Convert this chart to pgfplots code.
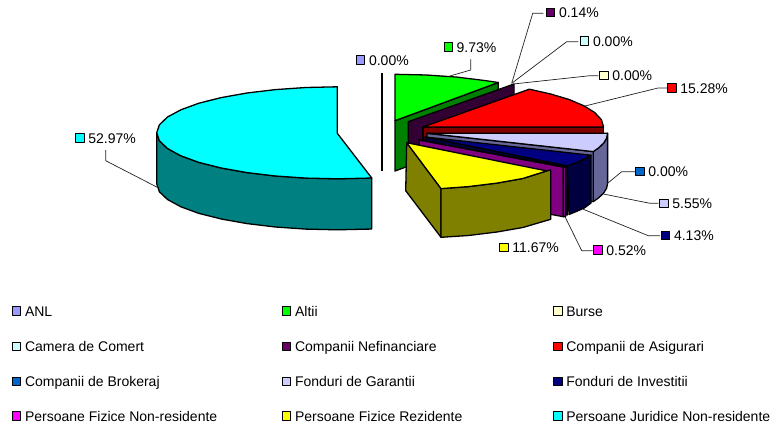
\documentclass[border=0pt]{standalone}
\usepackage{pgfplots}
\pgfplotsset{compat=1.18}
\usepackage{fontspec}
\setmainfont{Liberation Sans}
\definecolor{cANL}{HTML}{9999FF}
\definecolor{cBurse}{HTML}{FFFFCC}
\definecolor{cCamera}{HTML}{CCFFFF}
\definecolor{cNef}{HTML}{660066}
\definecolor{cNefD}{HTML}{330033}
\definecolor{cBrok}{HTML}{0066CC}
\definecolor{cGar}{HTML}{CCCCFF}
\definecolor{cGarD}{HTML}{666699}
\definecolor{cInv}{HTML}{000080}
\definecolor{cInvD}{HTML}{000040}
\definecolor{cGreen}{HTML}{00FF00}
\definecolor{cGreenD}{HTML}{008000}
\definecolor{cRed}{HTML}{FF0000}
\definecolor{cRedD}{HTML}{800000}
\definecolor{cMag}{HTML}{FF00FF}
\definecolor{cMagD}{HTML}{800080}
\definecolor{cYellow}{HTML}{FFFF00}
\definecolor{cOlive}{HTML}{808000}
\definecolor{cCyan}{HTML}{00FFFF}
\definecolor{cTeal}{HTML}{008080}
\definecolor{cLead}{HTML}{222222}
\newcommand{\keyed}[4]{%
  \addplot[only marks, mark=square*, mark size=4.1pt,
    mark options={fill=#3, draw=black, line width=1.1bp},
    nodes near coords, point meta=explicit symbolic,
    nodes near coords style={anchor=base west, inner sep=0pt, xshift=7.8bp, yshift=-5bp,
      font=\fontsize{14bp}{16bp}\selectfont, text=black}]
    coordinates {(#1,#2)[#4]};}
\newcommand{\lead}[1]{\addplot[draw=cLead, line width=0.7bp] coordinates {#1};}
\begin{document}
\begin{tikzpicture}
\useasboundingbox (0,0) rectangle (772bp,428bp);
\begin{axis}[at={(0,0)}, anchor=south west, scale only axis, width=772bp, height=428bp, hide axis,
  xmin=0, xmax=772, ymin=0, ymax=428, y dir=reverse, clip=false,
  every axis plot/.append style={line join=round}]
\pgfplotsset{surf/.style={draw=black, line width=1.3bp}}
% Persoane Juridice Non-residente 52.97
\addplot[surf, fill=cTeal] coordinates {(156.7,132.8)(159.4,140.8)(167.5,148.5)(180.9,155.8)(198.9,162.4)(221.2,168)(247,172.6)(275.5,176)(305.9,178.1)(337.3,178.8)(368.7,178.1)(371.7,178)(371.7,229)(368.7,229.1)(337.3,229.8)(305.9,229.1)(275.5,227)(247,223.6)(221.2,219)(198.9,213.4)(180.9,206.8)(167.5,199.5)(159.4,191.8)(156.7,183.8)} --cycle;
\addplot[surf, fill=cCyan] coordinates {(337.3,86.8)(305.9,87.5)(275.5,89.6)(247,93)(221.2,97.6)(198.9,103.2)(180.9,109.8)(167.5,117)(159.4,124.8)(156.7,132.8)(159.4,140.8)(167.5,148.5)(180.9,155.8)(198.9,162.4)(221.2,168)(247,172.6)(275.5,176)(305.9,178.1)(337.3,178.8)(368.7,178.1)(371.7,178)(337.3,133.3)} --cycle;
% ANL 0.00
\addplot[draw=black, line width=1.8bp] coordinates {(382,73.3)(382,171)};
% Altii 9.73
\addplot[surf, fill=cGreenD] coordinates {(395,120.7)(498.3,82.5)(498.3,133)(395,171)} --cycle;
\addplot[surf, fill=cGreen] coordinates {(395,74.3)(426.4,75)(456.8,77.1)(485.3,80.6)(498.3,82.5)(395,120.7)} --cycle;
% Companii Nefinanciare 0.14
\addplot[surf, fill=cNefD] coordinates {(408.3,121.7)(514,84)(514,135)(408.3,172)} --cycle;
% Companii de Asigurari 15.28
\addplot[surf, fill=cRedD] coordinates {(423,127)(603.6,127)(603.6,178)(423,178)} --cycle;
\addplot[surf, fill=cRed] coordinates {(423,127)(529.3,89.2)(550.7,94)(569.1,99.5)(583.9,105.8)(594.8,112.6)(601.4,119.7)(603.6,127)} --cycle;
% Fonduri de Garantii 5.55
\addplot[surf, fill=cGarD] coordinates {(607.6,133.3)(606.6,138.2)(603.7,143)(598.8,147.7)(593.3,151.6)(593.3,201.6)(598.8,197.7)(603.7,193)(606.6,188.2)(607.6,183.3)} --cycle;
\addplot[surf, fill=cGarD] coordinates {(427,133.3)(593.3,151.6)(593.3,201.6)(427,183.3)} --cycle;
\addplot[surf, fill=cGar] coordinates {(427,133.3)(607.6,133.3)(606.6,138.2)(603.7,143)(598.8,147.7)(593.3,151.6)} --cycle;
% Fonduri de Investitii 4.13
\addplot[surf, fill=cInvD] coordinates {(425,137)(567.3,165.8)(567.3,215)(425,186)} --cycle;
\addplot[surf, fill=cInvD] coordinates {(591,155.2)(584.5,158.9)(576.5,162.4)(567.3,165.8)(569,214.5)(576.5,211.4)(584.5,207.9)(591,203)} --cycle;
\addplot[surf, fill=cInv] coordinates {(425,137)(591,155.2)(584.5,158.9)(576.5,162.4)(567.3,165.8)} --cycle;
% Persoane Fizice Non-residente 0.52
\addplot[surf, fill=cMagD] coordinates {(419.3,140)(563.3,167)(563.3,216.7)(419.3,190)} --cycle;
\addplot[surf, fill=cMagD] coordinates {(563.3,167)(565.7,166.7)(565.7,216.5)(563.3,216.7)} --cycle;
\addplot[surf, fill=cMag] coordinates {(419.3,140)(565.7,166.7)(563.3,167)} --cycle;
% Persoane Fizice Rezidente 11.67
\addplot[surf, fill=cOlive] coordinates {(406.7,142.7)(441,188.6)(441,237.3)(405.7,190.7)} --cycle;
\addplot[surf, fill=cOlive] coordinates {(441,188.6)(468.5,186.6)(497,183.1)(522.8,178.5)(546.7,170.9)(550.7,170)(550.7,219.3)(522.8,227.5)(497,232)(468.5,235.5)(441,237.3)} --cycle;
\addplot[surf, fill=cYellow] coordinates {(406.7,142.7)(546.7,170.9)(522.8,178.5)(497,183.1)(468.5,186.6)(441,188.6)} --cycle;
% leader lines
\lead{(450,76)(470.7,70)(470.7,59.3)}
\lead{(511.7,83.3)(532.7,13.3)(543.3,13.3)}
\lead{(511.7,83.3)(566.7,41.7)(578.3,41.7)}
\lead{(513.3,84)(590,75.7)(598.3,75.7)}
\lead{(585,106)(658,88)(667,88)}
\lead{(606.7,184)(621.7,171.7)(635,171.7)}
\lead{(603.3,194)(650,203.3)(658.3,203.3)}
\lead{(583.3,209.3)(648.3,235.7)(660,235.7)}
\lead{(565,216.7)(581.7,250.7)(592.7,250.7)}
\lead{(157.3,187.3)(105.7,160.7)(105.7,150)}
% value labels
\keyed{360.7}{60}{cANL}{0.00\%}
\keyed{448.3}{47}{cGreen}{9.73\%}
\keyed{550.7}{12.7}{cNef}{0.14\%}
\keyed{584.7}{41}{cCamera}{0.00\%}
\keyed{604}{75.7}{cBurse}{0.00\%}
\keyed{672}{88}{cRed}{15.28\%}
\keyed{640}{171.7}{cBrok}{0.00\%}
\keyed{664}{203.3}{cGar}{5.55\%}
\keyed{665.7}{235.7}{cInv}{4.13\%}
\keyed{598}{250}{cMag}{0.52\%}
\keyed{504}{247.3}{cYellow}{11.67\%}
\keyed{80}{138}{cCyan}{52.97\%}
% legend
\keyed{16.7}{311}{cANL}{ANL}
\keyed{286.7}{311}{cGreen}{Altii}
\keyed{558}{311}{cBurse}{Burse}
\keyed{16.7}{346.5}{cCamera}{Camera de Comert}
\keyed{286.7}{346.5}{cNef}{Companii Nefinanciare}
\keyed{558}{346.5}{cRed}{Companii de Asigurari}
\keyed{16.7}{381.3}{cBrok}{Companii de Brokeraj}
\keyed{286.7}{381.3}{cGar}{Fonduri de Garantii}
\keyed{558}{381.3}{cInv}{Fonduri de Investitii}
\keyed{16.7}{416}{cMag}{Persoane Fizice Non-residente}
\keyed{286.7}{416}{cYellow}{Persoane Fizice Rezidente}
\keyed{558}{416}{cCyan}{Persoane Juridice Non-residente}
\end{axis}
\end{tikzpicture}
\end{document}
